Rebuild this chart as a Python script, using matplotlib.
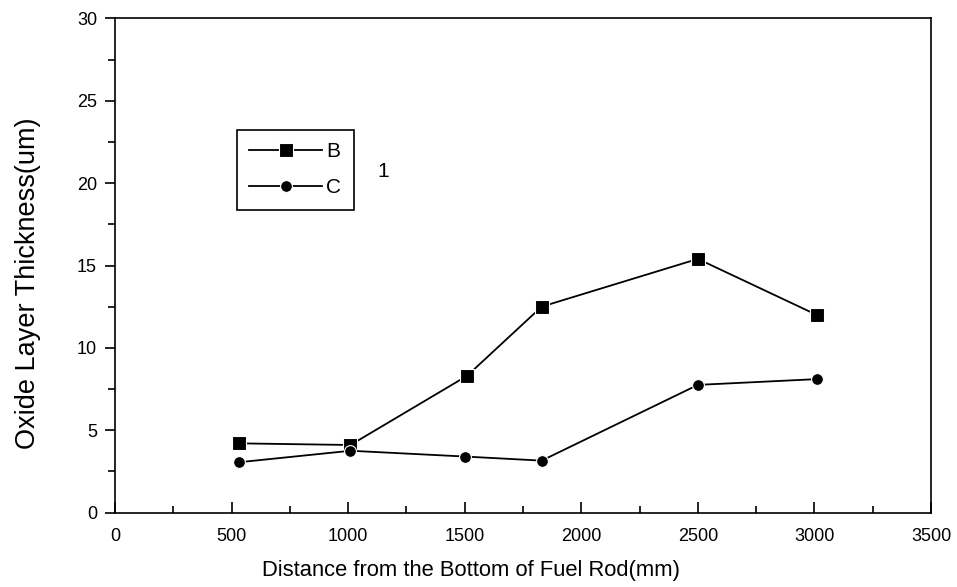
import matplotlib
matplotlib.use("Agg")
import matplotlib.pyplot as plt
from matplotlib.ticker import MultipleLocator

plt.rcParams['font.family'] = ['Liberation Sans', 'DejaVu Sans']

# data
x_b = [530, 1010, 1510, 1830, 2500, 3010]
y_b = [4.2, 4.1, 8.3, 12.5, 15.4, 12.0]
x_c = [530, 1010, 1500, 1830, 2500, 3010]
y_c = [3.05, 3.75, 3.4, 3.15, 7.75, 8.1]

x_ticks = [0, 500, 1000, 1500, 2000, 2500, 3000, 3500]
y_ticks = [0, 5, 10, 15, 20, 25, 30]

fig = plt.figure(figsize=(9.57, 5.87), dpi=100)
ax = fig.add_axes([0.1202, 0.1269, 0.8526, 0.8416])

ax.plot(x_b, y_b, color='black', lw=1.3, marker='s', ms=9.5,
        mfc='black', mec='white', mew=0.8, label='B')
ax.plot(x_c, y_c, color='black', lw=1.3, marker='o', ms=8.5,
        mfc='black', mec='white', mew=0.8, label='C')

ax.set_xlim(0, 3500)
ax.set_ylim(0, 30)
ax.set_xticks(x_ticks)
ax.set_yticks(y_ticks)
ax.xaxis.set_minor_locator(MultipleLocator(250))
ax.yaxis.set_minor_locator(MultipleLocator(2.5))

for s in ax.spines.values():
    s.set_linewidth(1.2)

ax.tick_params(axis='x', which='major', direction='in', length=8, width=1.2,
               pad=11, labelsize=13)
ax.tick_params(axis='x', which='minor', direction='in', length=5, width=1.2)
ax.tick_params(axis='y', which='major', direction='out', length=7, width=1.2,
               pad=6, labelsize=13)
ax.tick_params(axis='y', which='minor', direction='out', length=5, width=1.2)

ax.set_xlabel('Distance from the Bottom of Fuel Rod(mm)', fontsize=15.8)
ax.set_ylabel('Oxide Layer Thickness(um)', fontsize=19.5)
ax.xaxis.set_label_coords(0.436, -0.097)
ax.yaxis.set_label_coords(-0.091, 0.4646)

leg = ax.legend(loc='upper left', bbox_to_anchor=(0.149, 0.775), fontsize=15,
                frameon=True, fancybox=False, edgecolor='black', framealpha=1,
                handlelength=3.5, handletextpad=0.2, borderpad=0.6,
                labelspacing=0.82, borderaxespad=0)
leg.get_frame().set_linewidth(1.2)

ax.text(1150, 20.7, '1', fontsize=15, ha='center', va='center')

fig.savefig('out.png', dpi=100)
